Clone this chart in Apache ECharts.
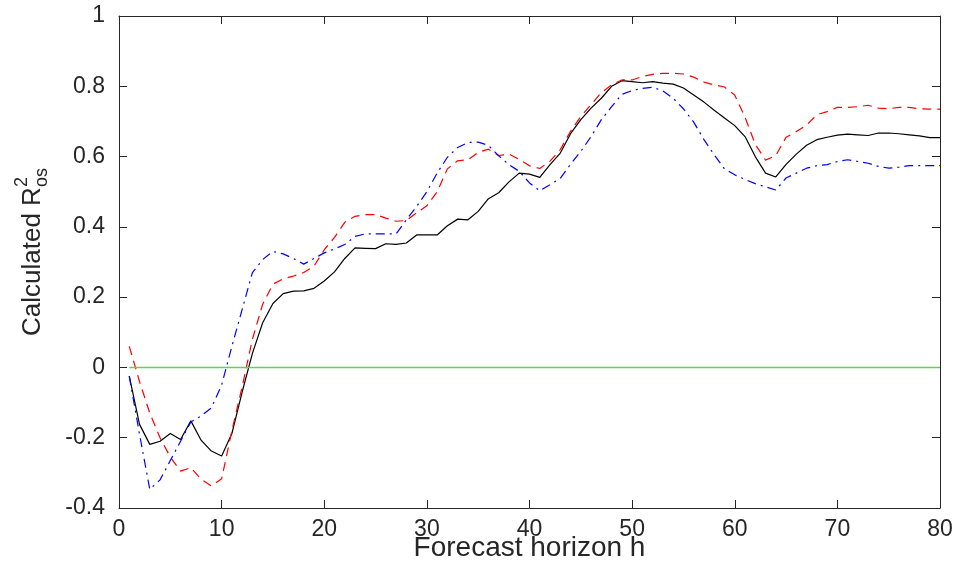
<!DOCTYPE html>
<html>
<head>
<meta charset="utf-8">
<script src="https://cdn.jsdelivr.net/npm/echarts@6/dist/echarts.min.js"></script>
<style>
html,body{margin:0;padding:0;background:#fff;}
#chart{width:954px;height:566px;}
</style>
</head>
<body>
<div id="chart"></div>
<script>
const horizons = Array.from({length: 80}, (_, i) => i + 1);

const solidBlack = [
 -0.025,-0.162,-0.219,-0.210,-0.188,-0.205,-0.152,-0.207,-0.238,-0.252,
 -0.188,-0.070, 0.040, 0.127, 0.182, 0.210, 0.217, 0.218, 0.225, 0.246,
  0.272, 0.310, 0.340, 0.339, 0.338, 0.352, 0.350, 0.354, 0.377, 0.377,
  0.377, 0.403, 0.422, 0.420, 0.444, 0.480, 0.497, 0.528, 0.553, 0.550,
  0.541, 0.577, 0.610, 0.665, 0.705, 0.738, 0.766, 0.800, 0.816, 0.813,
  0.810, 0.813, 0.809, 0.806, 0.795, 0.775, 0.755, 0.732, 0.710, 0.688,
  0.657, 0.600, 0.553, 0.542, 0.578, 0.607, 0.632, 0.648, 0.655, 0.661,
  0.664, 0.662, 0.660, 0.667, 0.667, 0.665, 0.662, 0.659, 0.654, 0.654
];

const dashedRed = [
  0.060,-0.040,-0.130,-0.200,-0.255,-0.295,-0.285,-0.318,-0.337,-0.317,
 -0.180,-0.055, 0.080, 0.180, 0.237, 0.252, 0.260, 0.270, 0.288, 0.335,
  0.370, 0.413, 0.430, 0.435, 0.435, 0.425, 0.416, 0.418, 0.440, 0.460,
  0.500, 0.565, 0.588, 0.591, 0.612, 0.621, 0.603, 0.607, 0.592, 0.574,
  0.566, 0.587, 0.620, 0.672, 0.714, 0.748, 0.782, 0.804, 0.818, 0.818,
  0.828, 0.834, 0.837, 0.837, 0.835, 0.826, 0.812, 0.804, 0.798, 0.775,
  0.712, 0.635, 0.590, 0.603, 0.655, 0.671, 0.690, 0.719, 0.728, 0.740,
  0.740, 0.742, 0.746, 0.738, 0.736, 0.740, 0.740, 0.736, 0.735, 0.735
];

const dashDotBlue = [
 -0.025,-0.190,-0.347,-0.320,-0.265,-0.210,-0.155,-0.138,-0.115,-0.050,
  0.060, 0.165, 0.270, 0.307, 0.330, 0.323, 0.310, 0.294, 0.310, 0.326,
  0.337, 0.350, 0.373, 0.380, 0.380, 0.380, 0.380, 0.420, 0.458, 0.500,
  0.553, 0.598, 0.626, 0.640, 0.641, 0.632, 0.602, 0.577, 0.558, 0.525,
  0.503, 0.520, 0.538, 0.578, 0.615, 0.657, 0.705, 0.742, 0.777, 0.788,
  0.794, 0.797, 0.787, 0.766, 0.736, 0.698, 0.648, 0.605, 0.565, 0.548,
  0.535, 0.523, 0.514, 0.505, 0.539, 0.553, 0.567, 0.574, 0.577, 0.586,
  0.591, 0.586, 0.581, 0.572, 0.567, 0.570, 0.574, 0.574, 0.574, 0.574
];

const zeroLevel = 0;
const xTicks = [0, 10, 20, 30, 40, 50, 60, 70, 80];
const yTicks = [-0.4, -0.2, 0, 0.2, 0.4, 0.6, 0.8, 1];
const xLabel = 'Forecast horizon h';
const yLabelMain = 'Calculated R';
const yLabelSup = '2';
const yLabelSub = 'os';

const FONT = '"Liberation Sans", Arial, Helvetica, sans-serif';
const AX = '#262626';

const pair = arr => horizons.map((h, i) => [h, arr[i]]);

const chart = echarts.init(document.getElementById('chart'), null, {renderer: 'canvas'});

function axisCommon(pos, showLabel) {
  return {
    type: 'value',
    position: pos,
    axisLine: {show: true, onZero: false, lineStyle: {color: AX, width: 1}},
    axisTick: {show: true, inside: true, length: 8, lineStyle: {color: AX, width: 1}},
    splitLine: {show: false},
    axisLabel: {show: showLabel, color: AX, fontFamily: FONT, fontSize: 23}
  };
}

const xBase = {min: xTicks[0], max: xTicks[xTicks.length - 1], interval: xTicks[1] - xTicks[0]};
const yBase = {min: yTicks[0], max: yTicks[yTicks.length - 1], interval: 0.2};

const option = {
  backgroundColor: '#fff',
  animation: false,
  grid: {left: 119, right: 14, top: 16, bottom: 58, containLabel: false, outerBoundsMode: 'none'},
  xAxis: [
    Object.assign(axisCommon('bottom', true), xBase, {
      name: xLabel, nameLocation: 'middle', nameGap: 26, nameMoveOverlap: false,
      nameTextStyle: {color: AX, fontFamily: FONT, fontSize: 28, verticalAlign: 'top'},
      axisLabel: {show: true, color: AX, fontFamily: FONT, fontSize: 23, margin: 10}
    }),
    Object.assign(axisCommon('top', false), xBase)
  ],
  yAxis: [
    Object.assign(axisCommon('left', true), yBase, {
      axisLabel: {show: true, color: AX, fontFamily: FONT, fontSize: 23, margin: 14,
        formatter: v => String(Math.round(v * 10) / 10)}
    }),
    Object.assign(axisCommon('right', false), yBase)
  ],
  graphic: [{
    type: 'group',
    x: 33, y: 336,
    rotation: Math.PI / 2,
    children: [
      {type: 'text', x: 0, y: 0,
       style: {text: yLabelMain, font: '26px ' + FONT, fill: AX, align: 'left', verticalAlign: 'middle', textAlign: 'left', textVerticalAlign: 'middle'}},
      {type: 'text', x: 149, y: -11,
       style: {text: yLabelSup, font: '18px ' + FONT, fill: AX, align: 'left', verticalAlign: 'middle', textAlign: 'left', textVerticalAlign: 'middle'}},
      {type: 'text', x: 149, y: 9,
       style: {text: yLabelSub, font: '18px ' + FONT, fill: AX, align: 'left', verticalAlign: 'middle', textAlign: 'left', textVerticalAlign: 'middle'}}
    ]
  }],
  series: [
    {name: 'solid', type: 'line', data: pair(solidBlack), showSymbol: false, symbol: 'none',
     lineStyle: {color: '#000000', width: 1.2}, z: 3},
    {name: 'dashed', type: 'line', data: pair(dashedRed), showSymbol: false, symbol: 'none',
     lineStyle: {color: '#ff0000', width: 1.2, type: [9, 6]}, z: 3},
    {name: 'dashdot', type: 'line', data: pair(dashDotBlue), showSymbol: false, symbol: 'none',
     lineStyle: {color: '#0000ff', width: 1.2, type: [9, 5, 2, 5]}, z: 3},
    {name: 'zero', type: 'line', data: [[horizons[0], zeroLevel], [horizons[horizons.length - 1], zeroLevel]],
     showSymbol: false, symbol: 'none', lineStyle: {color: '#4fdc4f', width: 1.5}, z: 4}
  ]
};

chart.setOption(option);
</script>
</body>
</html>
